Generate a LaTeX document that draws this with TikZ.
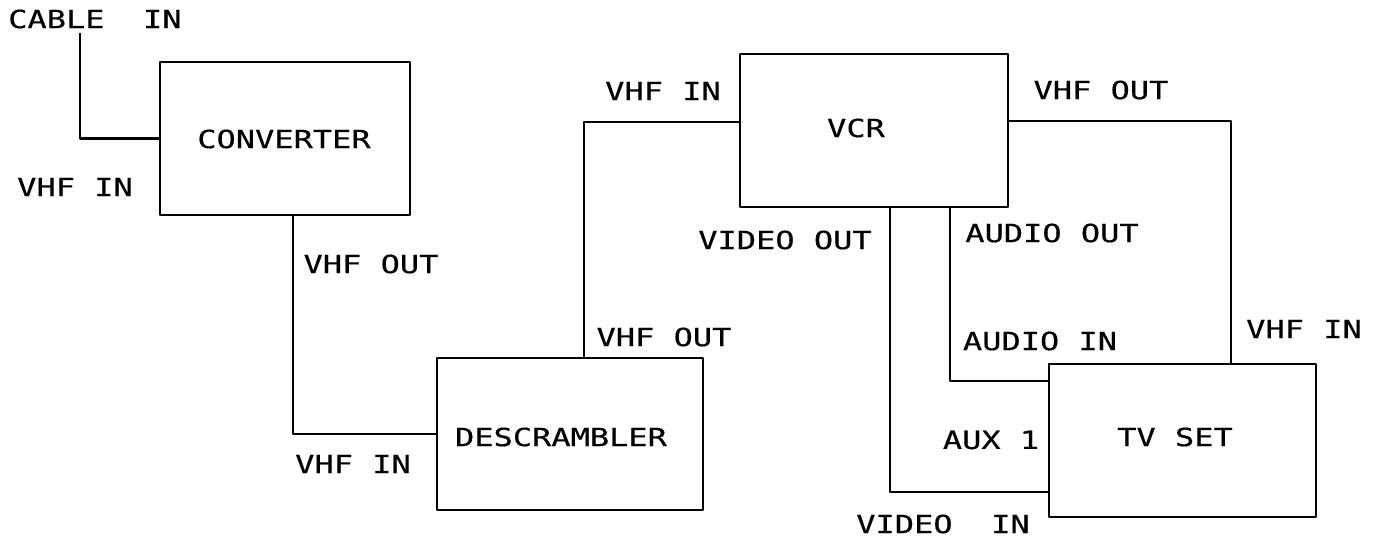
\documentclass[tikz,border=0pt]{standalone}
\usepackage{fontspec}
\newfontfamily\plotfont[FakeStretch=1.28,FakeBold=0.5]{DejaVu Sans Mono}
\begin{document}
\begin{tikzpicture}[x=1pt,y=-1pt,
  box/.style={draw,line width=2.9pt,line join=round,minimum width=#1,inner sep=0pt},
  wire/.style={line width=2.6pt,line join=round},
  lbl/.style={inner sep=0pt,font=\plotfont\fontsize{25}{26}\selectfont}]
\useasboundingbox (0,0) rectangle (1377,540);
% boxes
\node[box=250pt,minimum height=153pt] (conv) at (285,138.5) {};
\node[box=266pt,minimum height=152pt] (desc) at (570,434) {};
\node[box=268pt,minimum height=153pt] (vcr) at (874,130.5) {};
\node[box=267pt,minimum height=153pt] (tv) at (1182.5,440.5) {};
% box texts
\node[lbl] (tconv) at (284,139) {CONVERTER};
\node[lbl] (tdesc) at (561,437) {DESCRAMBLER};
\node[lbl] (tvcr) at (856,128) {VCR};
\node[lbl] (ttv) at (1175,437) {TV SET};
% connectors
\coordinate (cable) at (80,33);
\draw[wire] (cable) |- (conv.west);
\draw[wire] ([xshift=8pt]conv.south) |- (desc.west);
\draw[wire] ([xshift=14pt]desc.north) |- ([yshift=8.5pt]vcr.west);
\draw[wire] ([yshift=9.5pt]vcr.east) -| ([xshift=48.5pt]tv.north);
\draw[wire] ([xshift=16pt]vcr.south) |- ([yshift=-51.5pt]tv.west);
\draw[wire] ([xshift=76pt]vcr.south) |- ([yshift=59.5pt]tv.west);
% port labels
\node[lbl,anchor=west] (l1) at (8,19) {CABLE\ \ IN};
\node[lbl] (l2) at (75,187) {VHF IN};
\node[lbl] (l3) at (371,264) {VHF OUT};
\node[lbl] (l4) at (353,464) {VHF IN};
\node[lbl] (l5) at (664,337) {VHF OUT};
\node[lbl] (l6) at (663,91) {VHF IN};
\node[lbl] (l7) at (785,240) {VIDEO OUT};
\node[lbl] (l8) at (1101,90) {VHF OUT};
\node[lbl] (l9) at (1052,233) {AUDIO OUT};
\node[lbl] (l10) at (1040,341) {AUDIO IN};
\node[lbl] (l11) at (1304,329) {VHF IN};
\node[lbl] (l12) at (991,440) {AUX 1};
\node[lbl] (l13) at (943,524) {VIDEO\ \ IN};
\end{tikzpicture}
\end{document}
